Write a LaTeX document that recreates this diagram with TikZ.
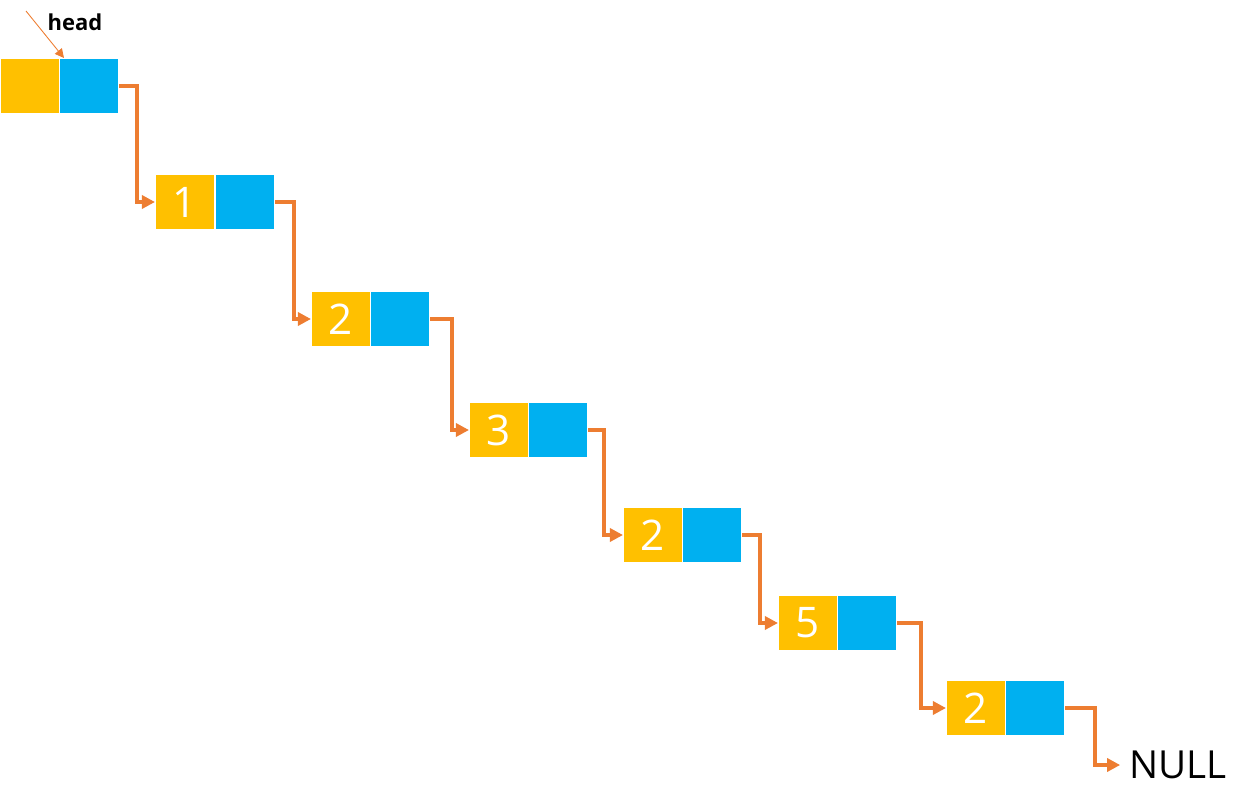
\documentclass[tikz,border=0pt]{standalone}
\usepackage{fontspec}
\setmainfont{Open Sans}
\usepackage{tikz}
\usetikzlibrary{arrows.meta,positioning}
\definecolor{valyel}{HTML}{FFC000}
\definecolor{ptrblu}{HTML}{00B0F0}
\definecolor{linkor}{HTML}{ED7D31}
\tikzset{
  valcell/.style={rectangle,fill=valyel,draw=white,line width=0.6pt,
                  minimum width=1.18cm,minimum height=1.1cm,inner sep=0pt,
                  text=white,font=\fontsize{24}{28}\selectfont},
  ptrcell/.style={rectangle,fill=ptrblu,draw=white,line width=0.6pt,
                  minimum width=1.18cm,minimum height=1.1cm,inner sep=0pt},
  link/.style={-{Triangle[length=2.6mm,width=2.6mm]},draw=linkor,line width=2.2pt},
  headptr/.style={-{Triangle[length=1.8mm,width=1.8mm]},draw=linkor,line width=0.5pt},
}
\begin{document}
\begin{tikzpicture}[x=0.02cm,y=-0.02cm]
  \useasboundingbox (0,0) rectangle (1245,808);
  % --- list cells (pixel coordinates) ---
  \node[valcell] (v0) at (30,86)   {};
  \node[ptrcell] (p0) at (89,86)   {};
  \node[valcell] (v1) at (185,202) {1};
  \node[ptrcell] (p1) at (245,202) {};
  \node[valcell] (v2) at (341,319) {2};
  \node[ptrcell] (p2) at (400,319) {};
  \node[valcell] (v3) at (499,430) {3};
  \node[ptrcell] (p3) at (558,430) {};
  \node[valcell] (v4) at (653,535) {2};
  \node[ptrcell] (p4) at (712,535) {};
  \node[valcell] (v5) at (808,623) {5};
  \node[ptrcell] (p5) at (867,623) {};
  \node[valcell] (v6) at (976,708) {2};
  \node[ptrcell] (p6) at (1035,708) {};
  \node[font=\fontsize{22}{26}\selectfont,inner sep=5pt] (null) at (1178,765) {NULL};
  \node[font=\bfseries\fontsize{12.5}{14}\selectfont] (head) at (75,22) {head};
  \coordinate (hs) at (26,11);
  % --- links ---
  \draw[headptr] (hs) -- ([xshift=0.1cm]p0.north west);
  \draw[link] (p0.east) -- ++(18,0) |- (v1.west);
  \draw[link] (p1.east) -- ++(19,0) |- (v2.west);
  \draw[link] (p2.east) -- ++(22,0) |- (v3.west);
  \draw[link] (p3.east) -- ++(16,0) |- (v4.west);
  \draw[link] (p4.east) -- ++(18,0) |- (v5.west);
  \draw[link] (p5.east) -- ++(24,0) |- (v6.west);
  \draw[link] (p6.east) -- ++(30,0) |- (null.west);
\end{tikzpicture}
\end{document}
